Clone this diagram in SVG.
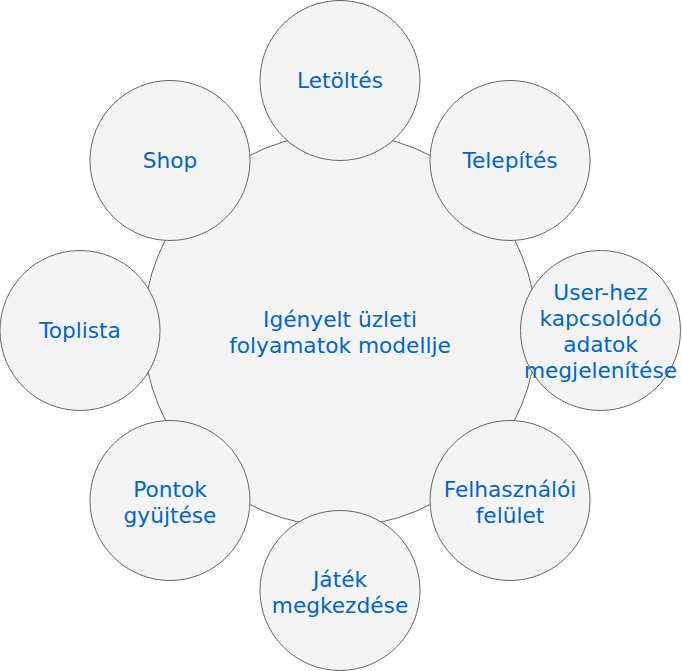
<svg xmlns="http://www.w3.org/2000/svg" width="682" height="671" viewBox="0 0 682 671">
<style>
circle{fill:#f4f4f4;stroke:#666666;stroke-width:1}
text{font-family:"DejaVu Sans",Verdana,sans-serif;font-size:21.7px;fill:#0066cc;text-anchor:middle}
</style>
<rect width="682" height="671" fill="#ffffff"/>
<g id="center"><circle cx="340" cy="330" r="196.5"/><text x="340" y="327">Igényelt üzleti</text><text x="340" y="353">folyamatok modellje</text></g>
<g id="connectors"></g>
<g id="letoltes"><circle cx="340" cy="80.5" r="80"/><text x="340" y="88">Letöltés</text></g>
<g id="telepites"><circle cx="510" cy="160.5" r="80"/><text x="510" y="168">Telepítés</text></g>
<g id="userhez"><circle cx="600.5" cy="330.5" r="80"/><text x="600.5" y="300">User-hez</text><text x="600.5" y="326">kapcsolódó</text><text x="600.5" y="352">adatok</text><text x="600.5" y="378">megjelenítése</text></g>
<g id="felhasznaloi"><circle cx="510" cy="500.5" r="80"/><text x="510" y="497">Felhasználói</text><text x="510" y="523">felület</text></g>
<g id="jatek"><circle cx="340" cy="590.5" r="80"/><text x="340" y="587">Játék</text><text x="340" y="613">megkezdése</text></g>
<g id="pontok"><circle cx="170" cy="500.5" r="80"/><text x="170" y="497">Pontok</text><text x="170" y="523">gyüjtése</text></g>
<g id="toplista"><circle cx="80" cy="330.5" r="80"/><text x="80" y="338">Toplista</text></g>
<g id="shop"><circle cx="170" cy="160.5" r="80"/><text x="170" y="168">Shop</text></g>
</svg>
